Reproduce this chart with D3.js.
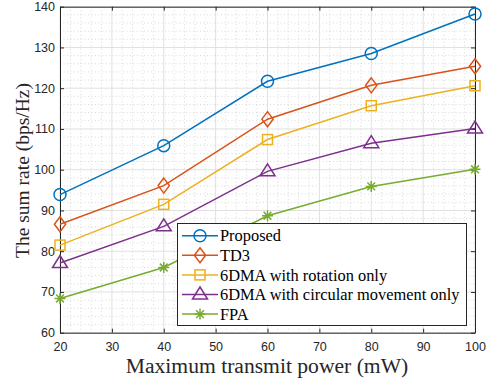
<!DOCTYPE html>
<html>
<head>
<script src="https://cdnjs.cloudflare.com/ajax/libs/d3/7.8.5/d3.min.js"></script>
<style>
  body { margin: 0; background: #fff; }
</style>
</head>
<body>
<svg id="chart" width="490" height="383"></svg>
<script>
// data
var power = [20, 40, 60, 80, 100];
var seriesNames = ["Proposed", "TD3", "6DMA with rotation only", "6DMA with circular movement only", "FPA"];
var proposed = [93.9, 105.9, 121.7, 128.5, 138.2];
var td3 = [86.6, 96.1, 112.4, 120.7, 125.4];
var rotOnly = [81.5, 91.5, 107.4, 115.7, 120.6];
var circOnly = [77.1, 86.1, 99.6, 106.5, 110.1];
var fpa = [68.4, 76.0, 88.7, 95.9, 100.1];
var xTicks = [20, 30, 40, 50, 60, 70, 80, 90, 100];
var yTicks = [60, 70, 80, 90, 100, 110, 120, 130, 140];

var colors = ["#0072BD", "#D95319", "#EDB120", "#7E2F8E", "#77AC30"];
var markers = ["circle", "diamond", "square", "triangle", "star"];
var allSeries = [proposed, td3, rotOnly, circOnly, fpa];

var svg = d3.select("#chart");
// note: "top" is taken by window.top, so use other names
var pLeft = 60, pRight = 475, pTop = 6.7, pBottom = 332.7;

var x = d3.scaleLinear().domain([20, 100]).range([pLeft, pRight]);
var y = d3.scaleLinear().domain([60, 140]).range([pBottom, pTop]);

// minor grid (dotted)
var g = svg.append("g");
d3.range(20, 101, 2).filter(function(v){ return v % 10 != 0; }).forEach(function(v){
  g.append("line").attr("x1", x(v)).attr("x2", x(v)).attr("y1", pTop).attr("y2", pBottom)
    .attr("stroke", "#cfcfcf").attr("stroke-width", 0.8).attr("stroke-dasharray", "1,2.5");
});
d3.range(60, 141, 2).filter(function(v){ return v % 10 != 0; }).forEach(function(v){
  g.append("line").attr("x1", pLeft).attr("x2", pRight).attr("y1", y(v)).attr("y2", y(v))
    .attr("stroke", "#cfcfcf").attr("stroke-width", 0.8).attr("stroke-dasharray", "1,2.5");
});
// major grid
xTicks.forEach(function(v){
  g.append("line").attr("x1", x(v)).attr("x2", x(v)).attr("y1", pTop).attr("y2", pBottom)
    .attr("stroke", "#e0e0e0").attr("stroke-width", 1);
});
yTicks.forEach(function(v){
  g.append("line").attr("x1", pLeft).attr("x2", pRight).attr("y1", y(v)).attr("y2", y(v))
    .attr("stroke", "#e0e0e0").attr("stroke-width", 1);
});

// axes (ticks inside, mirrored)
var axisColor = "#262626";
function styleAxis(sel) {
  sel.selectAll("path").attr("stroke", axisColor).attr("stroke-width", 1);
  sel.selectAll("line").attr("stroke", axisColor).attr("stroke-width", 1);
  sel.selectAll("text").attr("fill", axisColor).attr("font-family", "'Liberation Sans', Arial, sans-serif").attr("font-size", "12.5px");
}
var xb = svg.append("g").attr("transform", "translate(0," + pBottom + ")")
  .call(d3.axisBottom(x).tickValues(xTicks).tickSize(-4).tickSizeOuter(0).tickPadding(9));
styleAxis(xb);
var xt = svg.append("g").attr("transform", "translate(0," + pTop + ")")
  .call(d3.axisTop(x).tickValues(xTicks).tickSize(-4).tickSizeOuter(0).tickFormat(""));
styleAxis(xt);
var yl = svg.append("g").attr("transform", "translate(" + pLeft + ",0)")
  .call(d3.axisLeft(y).tickValues(yTicks).tickSize(-4).tickSizeOuter(0).tickPadding(5));
styleAxis(yl);
var yr = svg.append("g").attr("transform", "translate(" + pRight + ",0)")
  .call(d3.axisRight(y).tickValues(yTicks).tickSize(-4).tickSizeOuter(0).tickFormat(""));
styleAxis(yr);

// marker drawing
function drawMarker(sel, type, cx, cy, color) {
  if (type == "circle") {
    sel.append("circle").attr("cx", cx).attr("cy", cy).attr("r", 6)
      .attr("fill", "none").attr("stroke", color).attr("stroke-width", 1.5);
  } else if (type == "diamond") {
    var d = 7.5;
    sel.append("path").attr("d", "M" + cx + "," + (cy - d) + "L" + (cx + d * 0.75) + "," + cy + "L" + cx + "," + (cy + d) + "L" + (cx - d * 0.75) + "," + cy + "Z")
      .attr("fill", "none").attr("stroke", color).attr("stroke-width", 1.5);
  } else if (type == "square") {
    var s = 5;
    sel.append("rect").attr("x", cx - s).attr("y", cy - s).attr("width", 2 * s).attr("height", 2 * s)
      .attr("fill", "none").attr("stroke", color).attr("stroke-width", 1.5);
  } else if (type == "triangle") {
    var t = 7.5;
    sel.append("path").attr("d", "M" + cx + "," + (cy - t) + "L" + (cx + t) + "," + (cy + t * 0.6) + "L" + (cx - t) + "," + (cy + t * 0.6) + "Z")
      .attr("fill", "none").attr("stroke", color).attr("stroke-width", 1.5);
  } else if (type == "star") {
    var r = 5.5, p = "";
    for (var i = 0; i < 4; i++) {
      var a = i * Math.PI / 4 + Math.PI / 2;
      p += "M" + (cx + r * Math.cos(a)) + "," + (cy + r * Math.sin(a)) + "L" + (cx - r * Math.cos(a)) + "," + (cy - r * Math.sin(a));
    }
    sel.append("path").attr("d", p).attr("stroke", color).attr("stroke-width", 1.5);
  }
}

var line = d3.line().x(function(d, i){ return x(power[i]); }).y(function(d){ return y(d); });

allSeries.forEach(function(vals, k) {
  var sg = svg.append("g");
  sg.append("path").datum(vals).attr("d", line)
    .attr("fill", "none").attr("stroke", colors[k]).attr("stroke-width", 1.5);
  vals.forEach(function(v, i) {
    drawMarker(sg, markers[k], x(power[i]), y(v), colors[k]);
  });
});

// legend
var lg = svg.append("g");
lg.append("rect").attr("x", 177.5).attr("y", 223.5).attr("width", 289).attr("height", 102)
  .attr("fill", "#fff").attr("stroke", axisColor).attr("stroke-width", 1);
seriesNames.forEach(function(name, k) {
  var ly = 235.7 + k * 19.6;
  lg.append("line").attr("x1", 182).attr("x2", 218).attr("y1", ly).attr("y2", ly)
    .attr("stroke", colors[k]).attr("stroke-width", 1.5);
  drawMarker(lg, markers[k], 200, ly, colors[k]);
  lg.append("text").attr("x", 220).attr("y", ly).attr("dy", "0.35em")
    .attr("font-family", "'Liberation Serif', 'Times New Roman', serif").attr("font-size", "16.4px")
    .attr("fill", "#000").text(name);
});

// axis titles
svg.append("text").attr("x", 267).attr("y", 373)
  .attr("text-anchor", "middle").attr("font-family", "'Liberation Serif', 'Times New Roman', serif")
  .attr("font-size", "21.6px").attr("fill", "#262626").text("Maximum transmit power (mW)");
svg.append("text").attr("transform", "translate(29,170.5) rotate(-90)")
  .attr("text-anchor", "middle").attr("font-family", "'Liberation Serif', 'Times New Roman', serif")
  .attr("font-size", "19.5px").attr("fill", "#262626").text("The sum rate (bps/Hz)");
</script>
</body>
</html>
